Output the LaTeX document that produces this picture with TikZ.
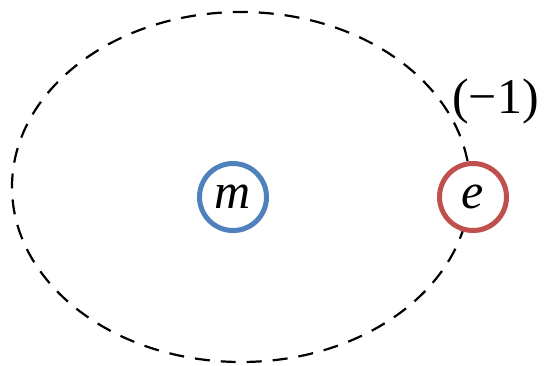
\documentclass[tikz,border=0pt]{standalone}
\usepackage{fontspec}
\setmainfont{Liberation Serif}
\usetikzlibrary{shadows}
\definecolor{mblue}{HTML}{4F81BD}
\definecolor{ered}{HTML}{C0504D}
\begin{document}
\begin{tikzpicture}[x=1pt,y=1pt,
  particle/.style={circle, line width=5pt, fill=white, minimum size=67pt, inner sep=0pt,
    font=\fontsize{50}{50}\selectfont\itshape,
    drop shadow={opacity=0.25, shadow xshift=1.5pt, shadow yshift=-2.5pt}},
  orbit/.style={draw=black, line width=2.2pt, dash pattern=on 15pt off 11pt}]
\useasboundingbox (0,0) rectangle (545,365);
\coordinate (c) at (241,178);
\draw[orbit] (c) ellipse [x radius=229, y radius=175];
\node[particle, draw=mblue] (m) at (233,168) {m};
\node[particle, draw=ered] (e) at (473,168) {e};
\node[anchor=base west, inner sep=0pt, font=\fontsize{50}{50}\selectfont] (q) at (452,252) {(−1)};
\end{tikzpicture}
\end{document}
